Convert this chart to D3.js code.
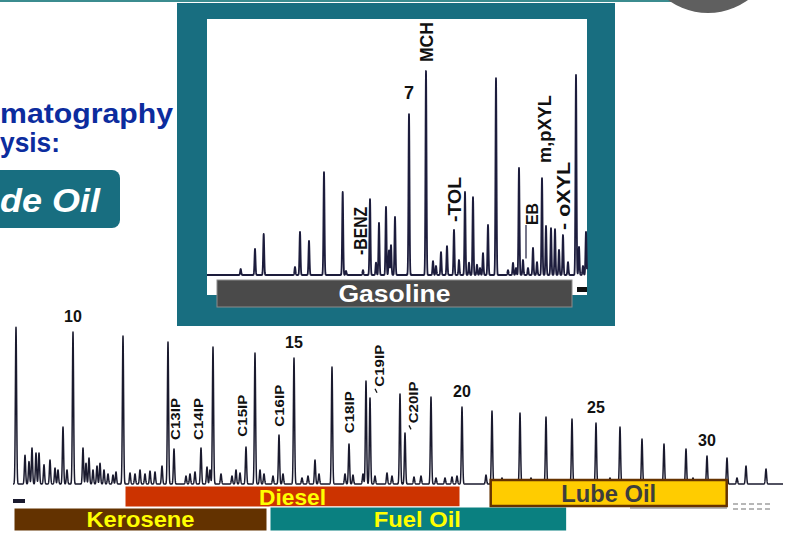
<!DOCTYPE html>
<html><head><meta charset="utf-8">
<script src="https://cdn.jsdelivr.net/npm/d3@7"></script>
<style>
html,body{margin:0;padding:0;background:#fff;overflow:hidden}
svg{display:block}
text{font-family:"Liberation Sans",Arial,sans-serif;font-weight:bold}
</style></head>
<body>
<svg id="chart" width="785" height="533"></svg>
<script>
// ---------- DATA ----------
// Gasoline chromatogram (retention units, relative peak height)
const gasTimes = [3.37,4.8,5.67,8.8,9.3,10.2,11.7,13.57,13.9,15.6,16.3,16.9,17.2,17.9,18.2,18.4,18.8,20.2,21.9,22.6,22.9,23.4,24.0,24.7,25.2,25.8,26.2,26.6,27.0,27.3,27.6,28.1,28.9,30.1,30.6,30.9,31.2,31.6,32.1,32.6,33.0,33.5,33.9,34.4,34.8,35.2,35.6,36.1,36.9,37.2,37.6,37.9];
const gasHeights = [2.9,12.7,20,3.9,21,16.6,50.2,40.5,2,2.4,37,6,25.4,33.2,12,14.6,28.3,78.5,99.5,6.8,4.4,11.2,14.1,22,7.3,40.5,6,38,5,3.4,10.7,24.4,96,2.4,5.9,3.4,52.2,7.3,3.4,13.2,6.3,47.3,23.9,22.9,22.4,12.2,19.5,6.3,97.6,13.7,4.4,21];
const gasLabels = ["7","MCH","-BENZ","-TOL","EB","m,pXYL","- oXYL"];
const gasLabelTimes = [20.2,22.6,16.0,25.4,33.1,34.4,36.3];
const gasLabelHeights = [85.7,103.9,9.8,25.9,24.4,54.6,22];
const gasBand = {name:"Gasoline", start:1.0, end:36.5};

// Crude oil chromatogram
const oilTimes = [0.3,1.2,1.6,1.9,2.3,2.6,3.1,3.7,4.2,4.5,5.0,5.4,6.0,7.0,7.3,7.6,8.0,8.4,8.7,9.1,9.5,10.0,10.3,11.0,11.7,12.2,12.7,13.2,13.7,14.2,14.9,15.5,16.1,17.3,17.7,18.2,18.8,19.4,19.7,20.0,20.8,21.9,22.3,22.7,23.3,24.2,24.7,25.1,26.0,26.6,27.0,28.1,28.9,29.5,30.2,30.6,31.9,33.2,33.6,34.0,35.0,35.3,35.7,36.2,37.4,37.9,38.7,39.2,40.1,40.8,41.8,42.3,43.2,43.9,44.4,44.9,47.3,47.9,48.9,50.7,51.8,53.3,55.9,58.3,59.7,60.7,62.9,65.1,67.3,68.0,69.4,71.4,72.4,73.3,75.3];
const oilHeights = [98,18,14,22.5,19.4,19.4,12,15,10,8.8,35.6,8.8,95,22.5,13,16.3,8.8,11.3,13,8.8,6.3,5.6,7.5,92.5,6.9,6.3,8.8,6.3,8.1,7.5,11.3,88.8,21.9,5,6.3,7.5,22.5,10.6,8.8,85.6,6.3,5,8.8,6.9,23.1,81.9,8.8,6.3,5,30.6,6.3,78.8,3.8,5,15,6.3,73.1,6.3,25,5.6,6.3,64.4,53.8,5,6.9,5,56.3,31.9,4.4,5,54.4,3.8,3.8,4.4,5,48.1,5.6,45.6,3.8,44.4,3.8,41.9,40.6,38.1,3.8,35.6,28.1,25,21.9,3.8,17.5,16.3,3.8,11.3,9.4];
const carbonLabels = ["10","15","20","25","30"];
const carbonTimes = [6.0,28.1,44.9,58.3,69.4];
const carbonHeights = [95,78.8,48.1,38.1,17.5];
const ipLabels = ["C13IP","C14IP","C15IP","C16IP","C18IP","C19IP","C20IP"];
const ipTimes = [16.7,19.03,23.37,27.1,34.1,37.1,40.5];
const ipHeights = [27.5,27.5,29.6,35.8,31.7,60.8,37.9];
const fuelNames = ["Kerosene","Diesel","Fuel Oil","Lube Oil"];
const fuelStarts = [0.1,11.2,25.7,47.77];
const fuelEnds = [25.4,44.7,55.37,71.37];
const fuelFills = ["#633200","#cc3300","#0a8080","#ffcc00"];
const fuelTextColors = ["#ffff00","#ffff00","#ffff00","#3d3d3d"];

// ---------- DRAW ----------
const svg = d3.select("#chart");

// slide decorations
svg.append("rect").attr("x",0).attr("y",0).attr("width",672).attr("height",2).attr("fill","#3b8c8f");
svg.append("circle").attr("cx",708).attr("cy",-55).attr("r",68).attr("fill","#5f5f5f");
svg.append("text").attr("x",0).attr("y",123).attr("font-size",28).attr("fill","#0c2c9e")
  .attr("textLength",173).attr("lengthAdjust","spacingAndGlyphs").text("matography");
svg.append("text").attr("x",0).attr("y",152).attr("font-size",28).attr("fill","#0c2c9e")
  .attr("textLength",60).attr("lengthAdjust","spacingAndGlyphs").text("ysis:");
svg.append("rect").attr("x",-12).attr("y",170).attr("width",132).attr("height",58).attr("rx",8)
  .attr("fill","#186e80");
svg.append("text").attr("x",0).attr("y",212).attr("font-size",34).attr("fill","#fff")
  .attr("font-style","italic").attr("textLength",100).attr("lengthAdjust","spacingAndGlyphs").text("de Oil");

function signal(times, heights, sigma, t){
  let v = 0;
  for(let i=0;i<times.length;i++){
    const z = (t - times[i]) / sigma;
    if (Math.abs(z) < 6) v += heights[i]*Math.exp(-0.5*z*z);
  }
  return v;
}

// ----- Gasoline panel -----
svg.append("rect").attr("x",177).attr("y",3).attr("width",438).attr("height",323).attr("fill","#186e80");
svg.append("rect").attr("x",207).attr("y",19).attr("width",380).attr("height",276).attr("fill","#fff");
const gx = d3.scaleLinear().domain([0,38]).range([207,587]);
const gy = d3.scaleLinear().domain([0,100]).range([275,70]);
const gTs = d3.range(0, 38.001, 0.01);
const gasLine = d3.line().x(t=>gx(t)).y(t=>gy(signal(gasTimes,gasHeights,0.05,t)));
svg.append("path").attr("d",gasLine(gTs)).attr("fill","none").attr("stroke","#1c1c3c").attr("stroke-width",1.8)
  .attr("stroke-linejoin","round");

gasLabels.forEach((lab,i)=>{
  const x = gx(gasLabelTimes[i]), y = gy(gasLabelHeights[i]);
  if (lab === "7") {
    svg.append("text").attr("x",x).attr("y",y).attr("text-anchor","middle").attr("font-size",18).attr("fill","#111").text(lab);
  } else {
    const lens = {"MCH":40,"-BENZ":48,"-TOL":45,"EB":22,"m,pXYL":68,"- oXYL":68};
    const fs = (lab==="EB")?16:18;
    svg.append("text").attr("transform",`translate(${x},${y}) rotate(-90)`).attr("font-size",fs).attr("fill","#111")
      .attr("textLength",lens[lab]).attr("lengthAdjust","spacingAndGlyphs").text(lab);
  }
});
// EB bracket line
svg.append("line").attr("x1",gx(31.9)).attr("x2",gx(31.9)).attr("y1",gy(24.4)).attr("y2",gy(8)).attr("stroke","#1c1c3c").attr("stroke-width",1.2);

// Gasoline band
svg.append("rect").attr("x",gx(gasBand.start)).attr("y",280).attr("width",gx(gasBand.end)-gx(gasBand.start)).attr("height",27)
  .attr("fill","#4a4a4a").attr("stroke","#8c8c8c").attr("stroke-width",1);
svg.append("text").attr("x",(gx(gasBand.start)+gx(gasBand.end))/2).attr("y",302).attr("text-anchor","middle")
  .attr("font-size",23).attr("fill","#fff").attr("textLength",112).attr("lengthAdjust","spacingAndGlyphs").text(gasBand.name);
svg.append("rect").attr("x",577).attr("y",287).attr("width",10).attr("height",5).attr("fill","#111");

// ----- Crude oil chromatogram -----
const ox = d3.scaleLinear().domain([0,77]).range([13,783]);
const oy = d3.scaleLinear().domain([0,100]).range([484,324]);
const oTs = d3.range(0, 77.001, 0.01);
const oilLine = d3.line().x(t=>ox(t)).y(t=>oy(signal(oilTimes,oilHeights,0.06,t)));
svg.append("path").attr("d",oilLine(oTs)).attr("fill","none").attr("stroke","#1a1a2e").attr("stroke-width",1.5)
  .attr("stroke-linejoin","round");

carbonLabels.forEach((lab,i)=>{
  svg.append("text").attr("x",ox(carbonTimes[i])).attr("y",oy(carbonHeights[i])-10).attr("text-anchor","middle")
    .attr("font-size",16).attr("fill","#111").text(lab);
});
ipLabels.forEach((lab,i)=>{
  svg.append("text").attr("transform",`translate(${ox(ipTimes[i])},${oy(ipHeights[i])}) rotate(-90)`)
    .attr("font-size",13).attr("fill","#111").attr("textLength",42).attr("lengthAdjust","spacingAndGlyphs").text(lab);
});
// small tick marks before C19IP / C20IP
[5,6].forEach(i=>{
  const x = ox(ipTimes[i]) - 9, y = oy(ipHeights[i]) + 2;
  svg.append("line").attr("x1",x).attr("y1",y).attr("x2",x+2).attr("y2",y+4).attr("stroke","#111").attr("stroke-width",1.3);
});

// small marks / traces
svg.append("rect").attr("x",13).attr("y",499).attr("width",12).attr("height",4).attr("fill","#1a1a2e");
svg.append("line").attr("x1",630).attr("x2",727).attr("y1",508).attr("y2",508).attr("stroke","#a0a0a0").attr("stroke-width",1.5);
svg.append("line").attr("x1",733).attr("x2",772).attr("y1",504).attr("y2",504).attr("stroke","#a0a0a0").attr("stroke-width",1.5).attr("stroke-dasharray","5,3");
svg.append("line").attr("x1",733).attr("x2",772).attr("y1",509).attr("y2",509).attr("stroke","#a0a0a0").attr("stroke-width",1.5).attr("stroke-dasharray","5,3");

// fuel bands
const bandY = [508,486,507,480], bandH = [23,21,24,26], textY = [527,505,527,501.5];
const textLen = [108,67,87,95], textSize = [22,22,22,24];
fuelNames.forEach((name,i)=>{
  const x0 = ox(fuelStarts[i]), x1 = ox(fuelEnds[i]);
  const r = svg.append("rect").attr("x",x0).attr("y",bandY[i]).attr("width",x1-x0).attr("height",bandH[i]).attr("fill",fuelFills[i]);
  if (name === "Lube Oil") r.attr("stroke","#663300").attr("stroke-width",2.5);
  else r.attr("stroke","#ffffff").attr("stroke-width",1);
  svg.append("text").attr("x",(x0+x1)/2 + (name==="Fuel Oil"?-1:0)).attr("y",textY[i]).attr("text-anchor","middle")
    .attr("font-size",textSize[i]).attr("fill",fuelTextColors[i])
    .attr("textLength",textLen[i]).attr("lengthAdjust","spacingAndGlyphs").text(name);
});
</script>
</body></html>
